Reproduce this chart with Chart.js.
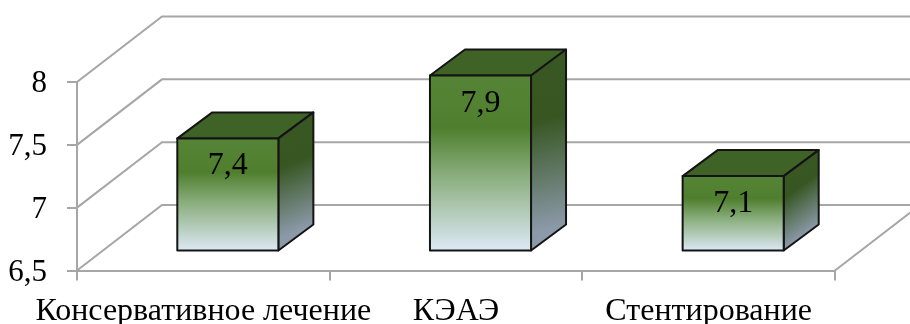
<!DOCTYPE html>
<html>
<head>
<meta charset="utf-8">
<title>Chart</title>
<script src="https://cdn.jsdelivr.net/npm/chart.js@4"></script>
<style>
  html, body { margin: 0; padding: 0; background: #fff; }
  canvas { display: block; }
</style>
</head>
<body>
<canvas id="chart" width="910" height="324"></canvas>
<script>
const categories = ["Консервативное лечение", "КЭАЭ", "Стентирование"];
const values = [7.4, 7.9, 7.1];
const axisMin = 6.5;
const axisMax = 8;
const axisStep = 0.5;

const FONT = "'Liberation Serif', 'Times New Roman', serif";
const GRID = "#a6a6a6";
const OUTLINE = "#141414";

// the room behind the columns
const wall = { dx: 85, dy: -65.5 };
// columns stand part way into the room
const shift = { dx: 24.5, dy: -19 };
const box = { dx: 35, dy: -26 };

const comma = (v) => String(v).replace(".", ",");

function frontGradient(context) {
  const { chart, dataIndex } = context;
  const y = chart.scales.y;
  if (!y || !chart.chartArea) return "#548235";
  const top = y.getPixelForValue(values[dataIndex]);
  const g = chart.ctx.createLinearGradient(0, top, 0, y.getPixelForValue(axisMin));
  g.addColorStop(0, "#558436");
  g.addColorStop(0.3, "#4f7f2e");
  g.addColorStop(0.55, "#86ab78");
  g.addColorStop(1, "#deeaf7");
  return g;
}

// back wall and floor, laid out from the value scale
const roomPlugin = {
  id: "room",
  beforeDatasetsDraw(chart) {
    const { ctx, chartArea, scales } = chart;
    ctx.save();
    ctx.strokeStyle = GRID;
    ctx.lineWidth = 2;
    ctx.lineCap = "round";
    scales.y.ticks.forEach((tick) => {
      const y = scales.y.getPixelForValue(tick.value);
      ctx.beginPath();
      ctx.moveTo(chartArea.left, y);
      ctx.lineTo(chartArea.left + wall.dx, y + wall.dy);
      ctx.lineTo(chart.width + 5, y + wall.dy);
      ctx.stroke();
    });
    ctx.beginPath();
    ctx.moveTo(chartArea.right, chartArea.bottom);
    ctx.lineTo(chartArea.right + wall.dx, chartArea.bottom + wall.dy);
    ctx.stroke();
    ctx.restore();
  }
};

// side and top faces of each column, front outline, value labels
const columnPlugin = {
  id: "column",
  beforeDatasetDraw(chart) {
    chart.ctx.save();
    chart.ctx.translate(shift.dx, shift.dy);
    drawFaces(chart);
  },
  afterDatasetDraw(chart) {
    const ctx = chart.ctx;
    ctx.fillStyle = "#000";
    ctx.font = "32px " + FONT;
    ctx.textAlign = "center";
    ctx.textBaseline = "alphabetic";
    chart.getDatasetMeta(0).data.forEach((bar, i) => {
      ctx.lineWidth = 2;
      ctx.strokeStyle = OUTLINE;
      ctx.strokeRect(bar.x - bar.width / 2, bar.y, bar.width, bar.base - bar.y);
      ctx.fillText(comma(values[i]), bar.x, bar.y + 36);
    });
    ctx.restore();
  }
};

function drawFaces(chart) {
  const ctx = chart.ctx;
  chart.getDatasetMeta(0).data.forEach((bar) => {
    const left = bar.x - bar.width / 2;
    const right = bar.x + bar.width / 2;
    ctx.lineWidth = 2;
    ctx.strokeStyle = OUTLINE;
    ctx.lineJoin = "round";

    ctx.beginPath();
    ctx.moveTo(left, bar.y);
    ctx.lineTo(left + box.dx, bar.y + box.dy);
    ctx.lineTo(right + box.dx, bar.y + box.dy);
    ctx.lineTo(right, bar.y);
    ctx.closePath();
    ctx.fillStyle = "#3f6227";
    ctx.fill();
    ctx.stroke();

    const side = ctx.createLinearGradient(right, bar.y, right + box.dx, bar.base + box.dy);
    side.addColorStop(0, "#385723");
    side.addColorStop(0.3, "#375622");
    side.addColorStop(1, "#8b99a8");
    ctx.beginPath();
    ctx.moveTo(right, bar.y);
    ctx.lineTo(right + box.dx, bar.y + box.dy);
    ctx.lineTo(right + box.dx, bar.base + box.dy);
    ctx.lineTo(right, bar.base);
    ctx.closePath();
    ctx.fillStyle = side;
    ctx.fill();
    ctx.stroke();
  });
}

new Chart(document.getElementById("chart"), {
  type: "bar",
  data: {
    labels: categories,
    datasets: [{
      data: values,
      base: axisMin,
      clip: false,
      backgroundColor: frontGradient,
      borderWidth: 0,
      barPercentage: 0.4,
      categoryPercentage: 1
    }]
  },
  plugins: [roomPlugin, columnPlugin],
  options: {
    responsive: false,
    animation: false,
    layout: { padding: { top: 82, right: 75, left: 0, bottom: 0 } },
    plugins: { legend: { display: false }, tooltip: { enabled: false } },
    scales: {
      x: {
        afterFit(scale) { scale.height = 53.5; },
        grid: { drawOnChartArea: false, color: GRID, lineWidth: 2, tickLength: 10 },
        border: { color: GRID, width: 2 },
        ticks: {
          color: "#000",
          font: { family: FONT, size: 32 },
          padding: 12,
          maxRotation: 0,
          minRotation: 0,
          autoSkip: false
        }
      },
      y: {
        min: axisMin,
        max: axisMax,
        afterFit(scale) { scale.width = 77; },
        grid: { drawOnChartArea: false, color: GRID, lineWidth: 2, tickLength: 10 },
        border: { color: GRID, width: 2 },
        ticks: {
          stepSize: axisStep,
          color: "#000",
          font: { family: FONT, size: 31 },
          padding: 20,
          labelOffset: 2,
          callback: (v) => comma(v)
        }
      }
    }
  }
});
</script>
</body>
</html>
